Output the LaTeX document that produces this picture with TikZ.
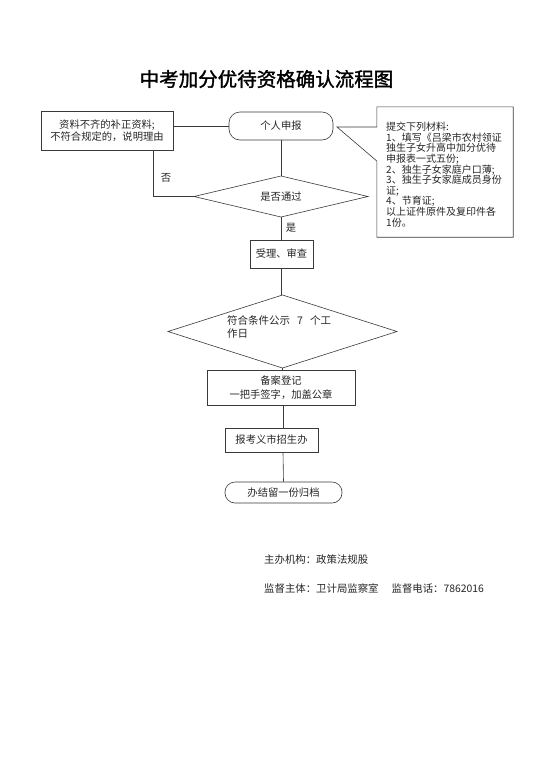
\documentclass[tikz,border=0pt]{standalone}
\usepackage{fontspec}
\setmainfont{Noto Sans CJK SC}
\newfontfamily\cjk{Noto Sans CJK SC}
\newfontfamily\cjkb{Noto Sans CJK SC}[FakeBold=1.5]
\definecolor{ln}{HTML}{3A3A3A}
\tikzset{
  every node/.style={font=\cjk\fontsize{10.3}{11}\selectfont, text=black!85, inner sep=0pt},
  box/.style={draw=ln, line width=0.6pt, rectangle},
  rbox/.style={draw=ln, line width=0.6pt, rectangle, rounded corners=11pt},
  conn/.style={draw=ln, line width=0.6pt},
}
\begin{document}
\begin{tikzpicture}[x=1pt,y=-1pt]
\useasboundingbox[fill=white] (0,0) rectangle (555,764);
\node[font=\cjkb\fontsize{19.5}{22}\selectfont, text=black] (title) at (266.5,79) {中考加分优待资格确认流程图};

\node[box, minimum width=132pt, minimum height=39pt, align=center] (lb) at (107,130.5) {资料不齐的补正资料;\\[1pt]不符合规定的，说明理由};
\node[rbox, minimum width=104pt, minimum height=28pt] (sb) at (281,126) {个人申报};

% diamond 1
\coordinate (d1n) at (281,176);
\coordinate (d1s) at (281,217);
\coordinate (d1w) at (194,196.5);
\coordinate (d1e) at (368,196.5);
\draw[conn] (d1n) -- (d1e) -- (d1s) -- (d1w) -- cycle;
\node (d1) at (281,196.5) {是否通过};

\node[box, minimum width=63pt, minimum height=28pt] (sl) at (281.5,254) {受理、审查};

% diamond 2
\coordinate (d2n) at (282.5,295);
\coordinate (d2s) at (282.5,368);
\coordinate (d2w) at (168,331.5);
\coordinate (d2e) at (397,331.5);
\draw[conn] (d2n) -- (d2e) -- (d2s) -- (d2w) -- cycle;
\node[anchor=north west, align=left, font=\cjk\fontsize{10.5}{13}\selectfont] (d2) at (227,315.5) {符合条件公示\hspace{7pt}7\hspace{7pt}个工\\作日};

\node[box, minimum width=148pt, minimum height=35pt, align=center] (ba) at (281,387.5) {备案登记\\[3pt]一把手签字，加盖公章};
\node[box, minimum width=93pt, minimum height=24pt] (bk) at (271.5,440) {报考义市招生办};
\node[rbox, minimum width=117pt, minimum height=21pt, rounded corners=10pt] (bj) at (283.5,492.5) {办结留一份归档};

% right callout box
\node[minimum width=136pt, minimum height=130pt] (rb) at (445,172) {};
\node[anchor=north west, align=left, text width=126pt, font=\cjk\fontsize{10}{10.6}\selectfont] (rt) at (386,122) {提交下列材料:\\1、填写《吕梁市农村领证\\独生子女升高中加分优待\\申报表一式五份;\\2、独生子女家庭户口薄;\\3、独生子女家庭成员身份\\证;\\4、节育证;\\以上证件原件及复印件各\\1份。};
\coordinate (ct) at (337,127);
\draw[conn] (rb.north west) -- (rb.west |- ct) -- (ct) -- (rb.west |- 0,161) -- (rb.south west) -- (rb.south east) -- (rb.north east) -- cycle;

% connectors
\draw[conn] (lb.east |- sb.west) -- (sb.west);
\draw[conn] (sb.south) -- (d1n);
\draw[conn] (lb.south -| 153,0) -- (153,196.5) -- (d1w);
\node (no) at (166,178) {否};
\draw[conn] (d1s) -- (sl.north -| d1s);
\node (yes) at (291,228) {是};
\draw[conn] (sl.south) -- (d2n -| sl.south);
\draw[conn] (d2s) -- (ba.north -| d2s);
\draw[conn] (ba.south -| 283,0) -- (bk.north -| 283,0);
\draw[conn] (bk.south -| 283,0) -- (bj.north);

% footer
\node[anchor=west, font=\cjk\fontsize{10.4}{12}\selectfont] (f1) at (264,560) {主办机构：政策法规股};
\node[anchor=west, font=\cjk\fontsize{10.4}{12}\selectfont] (f2) at (264,588) {监督主体：卫计局监察室\hspace{13pt}监督电话：7862016};
\end{tikzpicture}
\end{document}
